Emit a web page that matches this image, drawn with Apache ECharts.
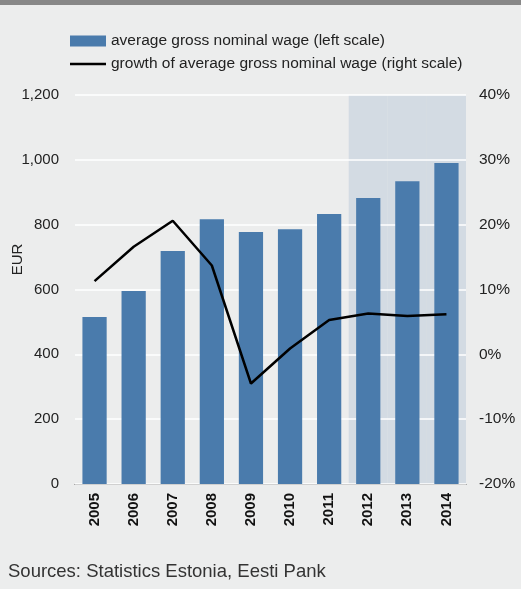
<!DOCTYPE html>
<html>
<head>
<meta charset="utf-8">
<script src="https://cdn.jsdelivr.net/npm/echarts@6/dist/echarts.min.js"></script>
<style>
  html, body { margin: 0; padding: 0; background: #eceded; }
  #topbar { position: absolute; left: 0; top: 0; width: 521px; height: 5px; background: #888888; }
  #chart { position: absolute; left: 0; top: 0; width: 521px; height: 589px; }
  #source { position: absolute; left: 8px; top: 562px; font: 18.5px/18px "Liberation Sans", Arial, sans-serif; color: #333; }
</style>
</head>
<body>
<div id="chart"></div>
<div id="topbar"></div>
<div id="source">Sources: Statistics Estonia, Eesti Pank</div>
<script>
// Years on the category axis
const years = ['2005', '2006', '2007', '2008', '2009', '2010', '2011', '2012', '2013', '2014'];
// Average gross nominal wage, EUR (left scale)
const wage = [515, 595, 719, 817, 777, 786, 833, 882, 934, 990];
// Growth of average gross nominal wage, % (right scale)
const growth = [11.3, 16.6, 20.6, 13.7, -4.5, 0.9, 5.3, 6.3, 5.9, 6.2];
// Forecast years shown with a shaded band
const forecastYears = ['2012', '2013', '2014'];

const leftTicks = { min: 0, max: 1200, interval: 200 };
const rightTicks = { min: -20, max: 40, interval: 10 };

const font = '"Liberation Sans", Arial, sans-serif';
const shade = years.map(y => forecastYears.includes(y) ? leftTicks.max : null);

// Legend key for the line: a thin horizontal stroke centred in the 36x11 key box
// (the two bare move-to points keep the box size so the stroke is not stretched)
const lineKey = 'path://M0,0M0,4.25H36V6.75H0ZM36,11';

const chart = echarts.init(document.getElementById('chart'), null, { renderer: 'canvas' });
chart.setOption({
  backgroundColor: '#eceded',
  animation: false,
  textStyle: { fontFamily: font },
  legend: {
    orient: 'vertical',
    left: 70,
    top: 33,
    padding: 0,
    itemWidth: 36,
    itemHeight: 11,
    itemGap: 7,
    textStyle: { fontSize: 15.5, color: '#222', fontFamily: font },
    data: [
      { name: 'average gross nominal wage (left scale)', icon: 'rect' },
      { name: 'growth of average gross nominal wage (right scale)', icon: lineKey, itemStyle: { color: '#000' } }
    ]
  },
  grid: { left: 75, right: 55, top: 95, bottom: 105, outerBoundsMode: 'none' },
  xAxis: [
    {
      type: 'category',
      data: years,
      axisLine: { lineStyle: { color: '#444', width: 1 } },
      axisTick: { show: false },
      axisLabel: { rotate: 90, fontSize: 15, fontWeight: 'bold', color: '#111', margin: 9, fontFamily: font }
    },
    {
      type: 'category',
      data: years,
      show: false
    }
  ],
  yAxis: [
    {
      type: 'value',
      z: 1,
      min: leftTicks.min, max: leftTicks.max, interval: leftTicks.interval,
      name: 'EUR',
      nameLocation: 'middle',
      nameGap: 50,
      nameRotate: 90,
      nameMoveOverlap: false,
      nameTextStyle: { fontSize: 15, color: '#222', fontFamily: font, padding: [0, 0, 0, 60] },
      axisLine: { show: false },
      axisTick: { show: false },
      axisLabel: {
        fontSize: 15, color: '#222', margin: 16, fontFamily: font,
        formatter: v => v.toLocaleString('en-US')
      },
      splitLine: { lineStyle: { color: '#ffffff', width: 1.5 } }
    },
    {
      type: 'value',
      z: 1,
      min: rightTicks.min, max: rightTicks.max, interval: rightTicks.interval,
      position: 'right',
      axisLine: { show: false },
      axisTick: { show: false },
      axisLabel: { fontSize: 15.5, color: '#222', margin: 13, fontFamily: font, formatter: v => v + '%' },
      splitLine: { show: false }
    }
  ],
  series: [
    {
      name: 'forecast',
      type: 'bar',
      xAxisIndex: 1,
      yAxisIndex: 0,
      data: shade,
      barCategoryGap: '0%',
      itemStyle: { color: '#d3dbe3' },
      silent: true,
      z: 0
    },
    {
      name: 'average gross nominal wage (left scale)',
      type: 'bar',
      yAxisIndex: 0,
      data: wage,
      barWidth: '62%',
      itemStyle: { color: '#4a7bac' },
      z: 3
    },
    {
      name: 'growth of average gross nominal wage (right scale)',
      type: 'line',
      yAxisIndex: 1,
      data: growth,
      symbol: 'none',
      lineStyle: { color: '#000', width: 2.5 },
      itemStyle: { color: '#000' },
      z: 5
    }
  ]
});
</script>
</body>
</html>
